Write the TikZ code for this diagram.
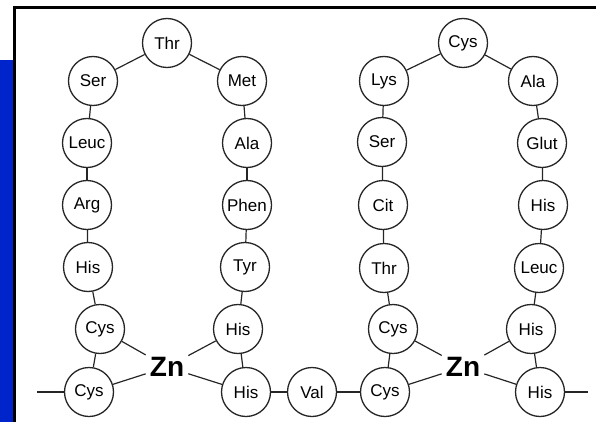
\documentclass[tikz,border=0pt]{standalone}
\usepackage{fontspec}
\setmainfont{Liberation Sans}
\definecolor{slideblue}{RGB}{0,36,204}
\begin{document}
\begin{tikzpicture}[x=1pt,y=-1pt,
    acid/.style={draw=black!85,circle,minimum size=49pt,inner sep=0pt,
      line width=1.3pt,font=\fontsize{17}{17}\selectfont},
    zinc/.style={font=\fontsize{28}{28}\selectfont\bfseries,inner sep=4pt},
    bond/.style={draw=black!85,line width=1.2pt}]
  \useasboundingbox (0,0) rectangle (596,422);

  %%%%  frame of the slide
  \fill[slideblue] (0,60) rectangle (14,422);
  \draw[line width=3pt] (14,422) -- (14,8) -- (596,8);

  %%%%  first finger
  \foreach \n/\x/\y/\t in {thra/167/43/Thr, sera/93/81/Ser, leuca/87/143/Leuc,
      arg/87/205/Arg, hisa/88/267/His, cysa/100/329/Cys, cysb/89/392/Cys,
      met/242/81/Met, alaa/247/143/Ala, phen/247/205/Phen, tyr/245/267/Tyr,
      hisb/238/329/His, hisc/246/392/His, val/312/392/Val}
    {\node[acid] (\n) at (\x,\y) {\t};}
  \node[zinc] (zna) at (167,367) {Zn};

  %%%%  second finger
  \foreach \n/\x/\y/\t in {cysc/385/392/Cys, cysd/393/329/Cys, thrb/384/268/Thr,
      cit/383/205/Cit, serb/382/142/Ser, lys/384/81/Lys, cyse/463/43/Cys,
      alab/533/81/Ala, glut/542/143/Glut, hisd/543/205/His, leucb/539/268/Leuc,
      hise/531/329/His, hisf/540/392/His}
    {\node[acid] (\n) at (\x,\y) {\t};}
  \node[zinc] (znb) at (463,367) {Zn};

  \coordinate (tailL) at (37,392);
  \coordinate (tailR) at (588,392);

  %%%%  backbone
  \foreach \a/\b in {tailL/cysb, cysb/cysa, cysa/hisa, hisa/arg, arg/leuca,
      leuca/sera, sera/thra, thra/met, met/alaa, alaa/phen, phen/tyr, tyr/hisb,
      hisb/hisc, hisc/val, val/cysc, cysc/cysd, cysd/thrb, thrb/cit, cit/serb,
      serb/lys, lys/cyse, cyse/alab, alab/glut, glut/hisd, hisd/leucb,
      leucb/hise, hise/hisf, hisf/tailR}
    {\draw[bond] (\a) -- (\b);}

  %%%%  zinc bonds
  \foreach \z/\p in {zna/cysa, zna/cysb, zna/hisb, zna/hisc,
      znb/cysd, znb/cysc, znb/hise, znb/hisf}
    {\draw[bond] (\z) -- (\p);}
\end{tikzpicture}
\end{document}
